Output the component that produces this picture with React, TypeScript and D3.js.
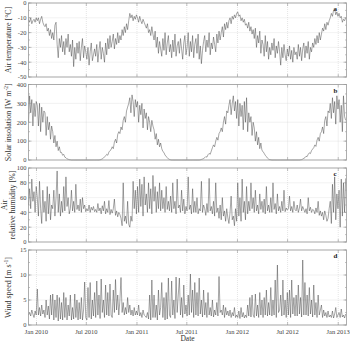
import React from 'react';
import * as d3 from 'd3';

// daily record sampled every 4 days, first sample on 3 Dec 2009
const START = new Date(2009, 11, 3);
const STEP_DAYS = 4;

const airTemperature = [
  -11, -13, -10, -14, -12, -11, -13, -10,
  -12, -10, -14, -11, -9, -13, -15,
  -16, -14, -19, -17, -22, -18, -24,
  -20, -25, -15, -13, -28, -37, -24, -30,
  -22, -33, -26, -35, -24, -30, -21, -33,
  -28, -36, -25, -43, -30, -38, -27,
  -34, -26, -39, -30, -24, -37, -29, -33,
  -38, -30, -42, -33, -27, -39, -35, -31,
  -36, -28, -40, -32, -26, -38, -30,
  -34, -40, -27, -35, -24, -31, -22, -30,
  -26, -21, -31, -24, -28, -20, -27, -22,
  -25, -18, -22, -16, -20, -14, -18,
  -12, -7, -10, -8, -12, -9, -11, -8,
  -10, -13, -9, -12, -14, -11, -13, -15,
  -17, -14, -20, -18, -22, -16, -21,
  -25, -19, -30, -23, -34, -26, -31,
  -36, -24, -32, -20, -35, -27, -22, -33,
  -28, -37, -25, -33, -21, -36, -29, -26,
  -34, -24, -31, -38, -27, -22, -35,
  -30, -20, -36, -26, -33, -22, -37, -28,
  -24, -34, -21, -38, -29, -41, -32, -26,
  -22, -33, -25, -30, -20, -35, -27,
  -31, -23, -28, -33, -21, -27, -19, -25,
  -20, -16, -23, -14, -18, -13, -17,
  -12, -10, -14, -9, -11, -8, -10, -7,
  -6, -9, -8, -12, -10, -13, -11, -15,
  -14, -17, -13, -19, -16, -21, -18,
  -24, -17, -30, -22, -27, -19, -34, -25,
  -28, -36, -22, -33, -26, -38, -30,
  -35, -27, -32, -24, -37, -29, -34, -26,
  -33, -42, -30, -37, -28, -35, -39, -31,
  -36, -29, -38, -32, -40, -30, -35,
  -33, -38, -28, -36, -30, -39, -31, -27,
  -37, -29, -34, -26, -38, -30, -33, -27,
  -30, -24, -28, -22, -27, -20, -25,
  -21, -17, -19, -14, -18, -13, -15, -12,
  -10, -7, -9, -5, -4, -8, -6, -9,
  -7, -10, -9, -13, -11, -12, -10,
];

const solarInsolation = [
  200, 340, 250, 320, 180, 300, 230, 310,
  290, 180, 300, 150, 280, 200, 260,
  250, 130, 230, 160, 200, 110, 180,
  150, 90, 130, 70, 100, 50, 70, 40,
  40, 25, 30, 15, 12, 6, 4, 2,
  1, 0, 0, 0, 0, 0, 0,
  0, 0, 0, 0, 0, 0, 0, 0,
  0, 0, 0, 0, 0, 0, 0, 0,
  0, 0, 0, 0, 1, 3, 6,
  10, 16, 22, 30, 25, 42, 50, 55,
  70, 60, 95, 110, 90, 135, 150, 140,
  175, 160, 210, 230, 200, 260, 280,
  300, 330, 250, 345, 310, 230, 320, 280,
  310, 200, 290, 240, 300, 170, 270, 220,
  250, 160, 230, 200, 150, 210, 180,
  160, 110, 140, 80, 110, 70, 90,
  60, 45, 40, 25, 20, 12, 6, 3,
  1, 0, 0, 0, 0, 0, 0, 0,
  0, 0, 0, 0, 0, 0, 0,
  0, 0, 0, 0, 0, 0, 0, 0,
  0, 0, 0, 0, 1, 3, 5, 8,
  12, 18, 15, 28, 35, 30, 48,
  65, 80, 70, 100, 120, 105, 140, 150,
  170, 150, 200, 230, 190, 260, 250,
  290, 320, 240, 300, 340, 260, 310, 220,
  320, 180, 300, 230, 290, 160, 310, 200,
  330, 150, 250, 200, 230, 130, 200,
  170, 100, 150, 80, 120, 60, 90, 50,
  45, 35, 25, 18, 10, 5, 2,
  1, 0, 0, 0, 0, 0, 0, 0,
  0, 0, 0, 0, 0, 0, 0, 0,
  0, 0, 0, 0, 0, 0, 0,
  0, 0, 0, 0, 1, 2, 5, 9,
  12, 20, 18, 30, 38, 34, 50, 58,
  65, 80, 72, 105, 120, 100, 140,
  150, 175, 140, 210, 230, 180, 260, 250,
  300, 220, 330, 250, 310, 190, 340, 270,
  320, 200, 290, 150, 340, 230, 210,
];

const relativeHumidity = [
  50, 72, 45, 85, 55, 68, 40, 75,
  60, 35, 82, 45, 25, 70, 40,
  55, 28, 75, 38, 65, 30, 50,
  45, 70, 35, 60, 96, 40, 65, 35,
  55, 40, 75, 42, 88, 48, 60, 38,
  45, 70, 42, 55, 40, 78, 44,
  50, 42, 58, 40, 60, 45, 50, 41,
  45, 42, 50, 40, 47, 43, 48, 41,
  44, 40, 52, 42, 46, 38, 49,
  42, 55, 38, 45, 40, 56, 37, 44,
  39, 45, 58, 36, 42, 34, 40, 37,
  32, 22, 80, 28, 35, 25, 55,
  24, 20, 35, 28, 82, 45, 70, 38,
  75, 40, 85, 48, 78, 35, 88, 50,
  65, 40, 80, 45, 72, 38, 90,
  55, 75, 40, 68, 45, 80, 42,
  70, 45, 60, 40, 75, 44, 55, 42,
  62, 40, 80, 45, 55, 38, 85, 46,
  50, 40, 70, 42, 58, 38, 48,
  42, 88, 44, 50, 38, 72, 40, 55,
  40, 60, 38, 45, 42, 82, 40, 50,
  45, 36, 52, 40, 86, 42, 48,
  38, 55, 35, 80, 40, 46, 32, 50,
  30, 60, 35, 42, 28, 45, 33,
  25, 40, 62, 30, 35, 22, 45, 28,
  80, 35, 60, 28, 85, 40, 55, 30,
  75, 38, 55, 42, 80, 45, 60,
  40, 70, 42, 50, 38, 65, 44, 55,
  40, 58, 38, 75, 42, 50, 40,
  60, 40, 80, 44, 52, 38, 65, 42,
  48, 40, 55, 42, 70, 41, 46, 43,
  45, 62, 42, 48, 40, 55, 44,
  42, 50, 40, 46, 58, 42, 48, 44,
  40, 45, 38, 60, 42, 47, 40, 44,
  43, 38, 46, 40, 55, 36, 42,
  35, 40, 30, 42, 36, 28, 32, 45,
  55, 25, 78, 40, 88, 30, 65, 45,
  70, 20, 85, 35, 80, 40, 86,
];

const windSpeed = [
  2, 2.5, 1.8, 3, 2.2, 1.5, 2.8, 2,
  7.2, 2, 3.5, 1.8, 4, 2.2, 3,
  1.5, 5, 2, 3.8, 1.2, 6, 2,
  6.2, 1, 5, 1.5, 6, 0.8, 5.5, 1.2,
  4.5, 1, 6.5, 1.5, 5.5, 1, 4, 1.8,
  6, 1, 3.5, 1.2, 6.2, 1.5, 5,
  1, 4.5, 1.2, 5.5, 1, 3, 8.6, 1.5,
  1, 7.5, 1.5, 8.5, 1.2, 5, 1.8, 6.5,
  1.5, 8.8, 2, 6, 1.3, 9.2, 2.5,
  5, 1.5, 8, 2, 6.5, 1.8, 8.2, 2,
  1.5, 7, 2.5, 9.1, 3, 6, 2, 5,
  9.5, 2.5, 4.5, 2, 3.5, 2.2, 5.5,
  2.5, 4, 2, 3, 1.8, 3.5, 2, 2.8,
  2, 4, 1.8, 2.5, 1.5, 3, 2, 1.8,
  1.5, 2.5, 1.2, 6, 1, 9, 1.5,
  6, 1.5, 4, 1, 7, 2, 3.5,
  8.5, 1.5, 5.5, 1, 6.5, 1.2, 9.4, 2,
  1.5, 8.8, 2, 5, 1.3, 9.6, 2.5, 6,
  9.4, 2, 5.5, 1.5, 8, 2.2, 4,
  1.8, 6, 2, 10.2, 2.5, 7, 1.5, 8.5,
  2, 6.5, 1.8, 9.4, 2.2, 5, 1.6, 7,
  2, 4.5, 1.5, 6.5, 2, 3.5, 1.8,
  5, 1.6, 3, 2, 4.5, 1.8, 9.7, 2.5,
  3, 2, 4, 1.5, 3.5, 2, 2.8,
  1.8, 3, 1.5, 2.5, 1.8, 3.5, 1.5, 2,
  1.5, 2.8, 1.3, 3.5, 1.6, 2.5, 1.4, 2,
  1.5, 4, 1.8, 5.5, 1.6, 6, 2,
  1.5, 6.2, 1.8, 4, 1.5, 6.5, 2, 5,
  1.5, 5.5, 2, 7, 1.8, 4.5, 2,
  7.5, 1.8, 5, 2, 9, 1.5, 12, 2.5,
  3, 6, 1.8, 9, 2, 5, 1.5, 6.5,
  2, 7, 1.5, 9, 2.2, 5.5, 1.8,
  6, 1.8, 8, 2.2, 5.5, 1.6, 13, 2,
  8.5, 2, 6, 1.8, 7.5, 2.2, 5, 1.6,
  8, 2, 4.5, 1.5, 6, 2, 3,
  4, 1.5, 3, 1.8, 2.5, 1.5, 2.8, 1.6,
  2, 1.5, 2.8, 1.4, 2.2, 3.5, 1.5, 2,
  2.5, 1.5, 3.2, 1.6, 2, 1.4, 2.2,
];

const xTickDates = [
  new Date(2010, 0, 1), new Date(2010, 6, 1), new Date(2011, 0, 1), new Date(2011, 6, 1),
  new Date(2012, 0, 1), new Date(2012, 6, 1), new Date(2013, 0, 1),
];
const xTickLabels = ['Jan 2010', 'Jul 2010', 'Jan 2011', 'Jul 2011', 'Jan 2012', 'Jul 2012', 'Jan 2013'];

const FONT = '"Liberation Serif", "Times New Roman", serif';
const W = 350;
const H = 342;
const LEFT = 28.5;
const RIGHT = 346.5;

const panels = [
  { key: 'a', values: airTemperature, domain: [-50, 0], ticks: [0, -10, -20, -30, -40, -50], top: 3, bottom: 77 },
  { key: 'b', values: solarInsolation, domain: [0, 400], ticks: [0, 100, 200, 300, 400], top: 84.5, bottom: 160 },
  { key: 'c', values: relativeHumidity, domain: [0, 100], ticks: [0, 20, 40, 60, 80, 100], top: 168, bottom: 242 },
  { key: 'd', values: windSpeed, domain: [0, 15], ticks: [0, 5, 10, 15], top: 250, bottom: 325 },
];

function dateAt(i: number) {
  const d = new Date(START);
  d.setDate(d.getDate() + i * STEP_DAYS);
  return d;
}

function YLabel({ k, cx, cy }: { k: string; cx: number; cy: number }) {
  const common = { fontFamily: FONT, fontSize: 8, fill: '#333', textAnchor: 'middle' as const };
  const sup = { fontSize: 5.5 };
  if (k === 'a') {
    return <text {...common} transform={`translate(${cx},${cy}) rotate(-90)`}>Air temperature [°C]</text>;
  }
  if (k === 'b') {
    return (
      <text {...common} transform={`translate(${cx},${cy}) rotate(-90)`}>
        Solar insolation [W m<tspan {...sup} dy={-3}>-2</tspan><tspan dy={3}>]</tspan>
      </text>
    );
  }
  if (k === 'c') {
    return (
      <g>
        <text {...common} transform={`translate(${cx - 4},${cy}) rotate(-90)`}>Air</text>
        <text {...common} transform={`translate(${cx + 4},${cy}) rotate(-90)`}>relative humidity [%]</text>
      </g>
    );
  }
  return (
    <text {...common} transform={`translate(${cx},${cy}) rotate(-90)`}>
      Wind speed [m s<tspan {...sup} dy={-3}>-1</tspan><tspan dy={3}>]</tspan>
    </text>
  );
}

export default function App() {
  const x = d3.scaleTime()
    .domain([new Date(2009, 11, 3), new Date(2013, 0, 31)])
    .range([LEFT, RIGHT]);

  return (
    <svg width={W} height={H} style={{ position: 'absolute', left: 0, top: 0, background: '#fff' }}>
      {panels.map((p) => {
        const y = d3.scaleLinear().domain(p.domain).range([p.bottom, p.top]);
        const line = d3.line<number>()
          .x((_, i) => x(dateAt(i)))
          .y((v) => y(v));
        const step = p.ticks[1] - p.ticks[0];
        const minor = d3.range(p.domain[0], p.domain[1] + 1e-9, Math.abs(step) / 2);
        return (
          <g key={p.key}>
            {xTickDates.map((d, i) => (
              <line key={'gx' + i} x1={x(d)} x2={x(d)} y1={p.top} y2={p.bottom}
                stroke="#d4d4d4" strokeWidth={0.6} strokeDasharray="1,1" />
            ))}
            {p.ticks.map((t) => (
              <line key={'gy' + t} x1={LEFT} x2={RIGHT} y1={y(t)} y2={y(t)}
                stroke="#d4d4d4" strokeWidth={0.6} strokeDasharray="1,1" />
            ))}
            <path d={line(p.values) || ''} fill="none" stroke="#3a3a3a" strokeWidth={0.45} strokeLinejoin="round" />
            <rect x={LEFT} y={p.top} width={RIGHT - LEFT} height={p.bottom - p.top}
              fill="none" stroke="#9a9a9a" strokeWidth={0.8} />
            {minor.map((t) => (
              <g key={'mt' + t}>
                <line x1={LEFT} x2={LEFT + 1.5} y1={y(t)} y2={y(t)} stroke="#9a9a9a" strokeWidth={0.6} />
                <line x1={RIGHT} x2={RIGHT - 1.5} y1={y(t)} y2={y(t)} stroke="#9a9a9a" strokeWidth={0.6} />
              </g>
            ))}
            {p.ticks.map((t) => (
              <g key={'t' + t}>
                <line x1={LEFT} x2={LEFT + 3} y1={y(t)} y2={y(t)} stroke="#9a9a9a" strokeWidth={0.6} />
                <line x1={RIGHT} x2={RIGHT - 3} y1={y(t)} y2={y(t)} stroke="#9a9a9a" strokeWidth={0.6} />
                <text x={LEFT - 2} y={y(t) + 2.3} textAnchor="end" fontFamily={FONT} fontSize={6.5} fill="#444">{t}</text>
              </g>
            ))}
            {xTickDates.map((d, i) => (
              <g key={'xt' + i}>
                <line x1={x(d)} x2={x(d)} y1={p.bottom} y2={p.bottom - 3} stroke="#9a9a9a" strokeWidth={0.6} />
                <line x1={x(d)} x2={x(d)} y1={p.top} y2={p.top + 3} stroke="#9a9a9a" strokeWidth={0.6} />
              </g>
            ))}
            <text x={RIGHT - 13} y={p.top + 8} fontFamily={FONT} fontSize={7} fontWeight="bold" fill="#222">{p.key}</text>
            <YLabel k={p.key} cx={11} cy={(p.top + p.bottom) / 2} />
          </g>
        );
      })}
      {xTickDates.map((d, i) => (
        <text key={'xl' + i} x={x(d)} y={334} textAnchor="middle" fontFamily={FONT} fontSize={6.5} fill="#444">
          {xTickLabels[i]}
        </text>
      ))}
      <text x={(LEFT + RIGHT) / 2} y={341} textAnchor="middle" fontFamily={FONT} fontSize={7.5} fill="#333">Date</text>
    </svg>
  );
}
